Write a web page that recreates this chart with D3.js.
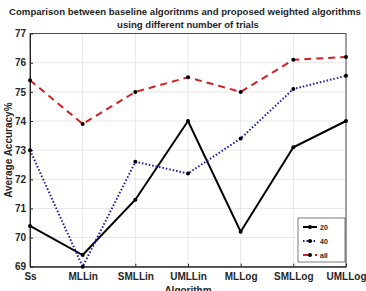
<!DOCTYPE html>
<html>
<head>
<meta charset="utf-8">
<script src="https://cdn.jsdelivr.net/npm/d3@7"></script>
<style>
  body { margin: 0; background: #fff; }
  text { font-family: "Liberation Sans", Arial, sans-serif; }
</style>
</head>
<body>
<svg id="chart" width="366" height="291"></svg>
<script>
// data
var algorithms = ["Ss", "MLLin", "SMLLin", "UMLLin", "MLLog", "SMLLog", "UMLLog"];
var acc20  = [70.4, 69.4, 71.3, 74.0, 70.2, 73.1, 74.0];
var acc40  = [73.0, 69.0, 72.6, 72.2, 73.4, 75.1, 75.55];
var accAll = [75.4, 73.9, 75.0, 75.5, 75.0, 76.1, 76.2];
var yTicks = [69, 70, 71, 72, 73, 74, 75, 76, 77];
var seriesNames = ["20", "40", "all"];

var plotLeft = 30, plotRight = 346, plotTop = 33.6, plotBottom = 266.7;

var svg = d3.select("#chart");

var x = d3.scalePoint().domain(algorithms).range([plotLeft, plotRight]);
var y = d3.scaleLinear().domain([69, 77]).range([plotBottom, plotTop]);

// gridlines
svg.append("g")
  .selectAll("line")
  .data(algorithms)
  .enter().append("line")
    .attr("x1", d => x(d)).attr("x2", d => x(d))
    .attr("y1", plotTop).attr("y2", plotBottom)
    .attr("stroke", "#e6e6e6").attr("stroke-width", 1);
svg.append("g")
  .selectAll("line")
  .data(yTicks)
  .enter().append("line")
    .attr("x1", plotLeft).attr("x2", plotRight)
    .attr("y1", d => y(d)).attr("y2", d => y(d))
    .attr("stroke", "#e6e6e6").attr("stroke-width", 1);

// box
svg.append("rect")
  .attr("x", plotLeft).attr("y", plotTop)
  .attr("width", plotRight - plotLeft).attr("height", plotBottom - plotTop)
  .attr("fill", "none").attr("stroke", "#262626").attr("stroke-width", 0.8);

// axes (ticks inward)
var xAxis = svg.append("g")
  .attr("transform", "translate(0," + plotBottom + ")")
  .call(d3.axisBottom(x).tickSizeInner(-3).tickSizeOuter(0).tickPadding(6));
var yAxis = svg.append("g")
  .attr("transform", "translate(" + plotLeft + ",0)")
  .call(d3.axisLeft(y).tickValues(yTicks).tickSizeInner(-3).tickSizeOuter(0).tickPadding(4));
[xAxis, yAxis].forEach(function(a) {
  a.select(".domain").attr("stroke", "#262626");
  a.selectAll(".tick line").attr("stroke", "#262626");
  a.selectAll("text").attr("fill", "#262626")
    .style("font-size", "10px").style("font-weight", "bold")
    .style("font-family", "Liberation Sans, Arial, sans-serif");
});

// lines
var series = [
  { name: "20", values: acc20, color: "#000000", dash: null, width: 2 },
  { name: "40", values: acc40, color: "#1a1aa6", dash: "1.5,2", width: 2 },
  { name: "all", values: accAll, color: "#d42020", dash: "7,5", width: 2 }
];

var line = d3.line()
  .x(function(d, i) { return x(algorithms[i]); })
  .y(function(d) { return y(d); });

series.forEach(function(s) {
  svg.append("path")
    .datum(s.values)
    .attr("d", line)
    .attr("fill", "none")
    .attr("stroke", s.color)
    .attr("stroke-width", s.width)
    .attr("stroke-dasharray", s.dash);
  svg.append("g").selectAll("circle")
    .data(s.values)
    .enter().append("circle")
      .attr("cx", function(d, i) { return x(algorithms[i]); })
      .attr("cy", function(d) { return y(d); })
      .attr("r", 2)
      .attr("fill", "#000");
});

// title
svg.append("text")
  .attr("x", 185).attr("y", 15)
  .attr("text-anchor", "middle")
  .style("font-size", "9.6px").style("font-weight", "bold").attr("fill", "#262626")
  .text("Comparison between baseline algoritnms and proposed weighted algorithms");
svg.append("text")
  .attr("x", 188).attr("y", 28)
  .attr("text-anchor", "middle")
  .style("font-size", "9.6px").style("font-weight", "bold").attr("fill", "#262626")
  .text("using different number of trials");

// axis labels
svg.append("text")
  .attr("transform", "translate(12," + ((plotTop + plotBottom) / 2) + ") rotate(-90)")
  .attr("text-anchor", "middle")
  .style("font-size", "10px").style("font-weight", "bold").attr("fill", "#262626")
  .text("Average Accuracy%");
svg.append("text")
  .attr("x", (plotLeft + plotRight) / 2).attr("y", 294)
  .attr("text-anchor", "middle")
  .style("font-size", "10px").style("font-weight", "bold").attr("fill", "#262626")
  .text("Algorithm");

// legend
var lx = 298, ly = 218;
var legend = svg.append("g");
legend.append("rect")
  .attr("x", lx).attr("y", ly).attr("width", 47).attr("height", 44)
  .attr("fill", "#fff").attr("stroke", "#262626").attr("stroke-width", 0.6);
series.forEach(function(s, i) {
  var cy = ly + 9 + i * 14;
  legend.append("line")
    .attr("x1", lx + 5).attr("x2", lx + 19)
    .attr("y1", cy).attr("y2", cy)
    .attr("stroke", s.color).attr("stroke-width", s.width)
    .attr("stroke-dasharray", s.dash);
  legend.append("circle")
    .attr("cx", lx + 12).attr("cy", cy).attr("r", 2).attr("fill", "#000");
  legend.append("text")
    .attr("x", lx + 22).attr("y", cy + 3)
    .style("font-size", "7px").style("font-weight", "bold").attr("fill", "#262626")
    .text(seriesNames[i]);
});
</script>
</body>
</html>
